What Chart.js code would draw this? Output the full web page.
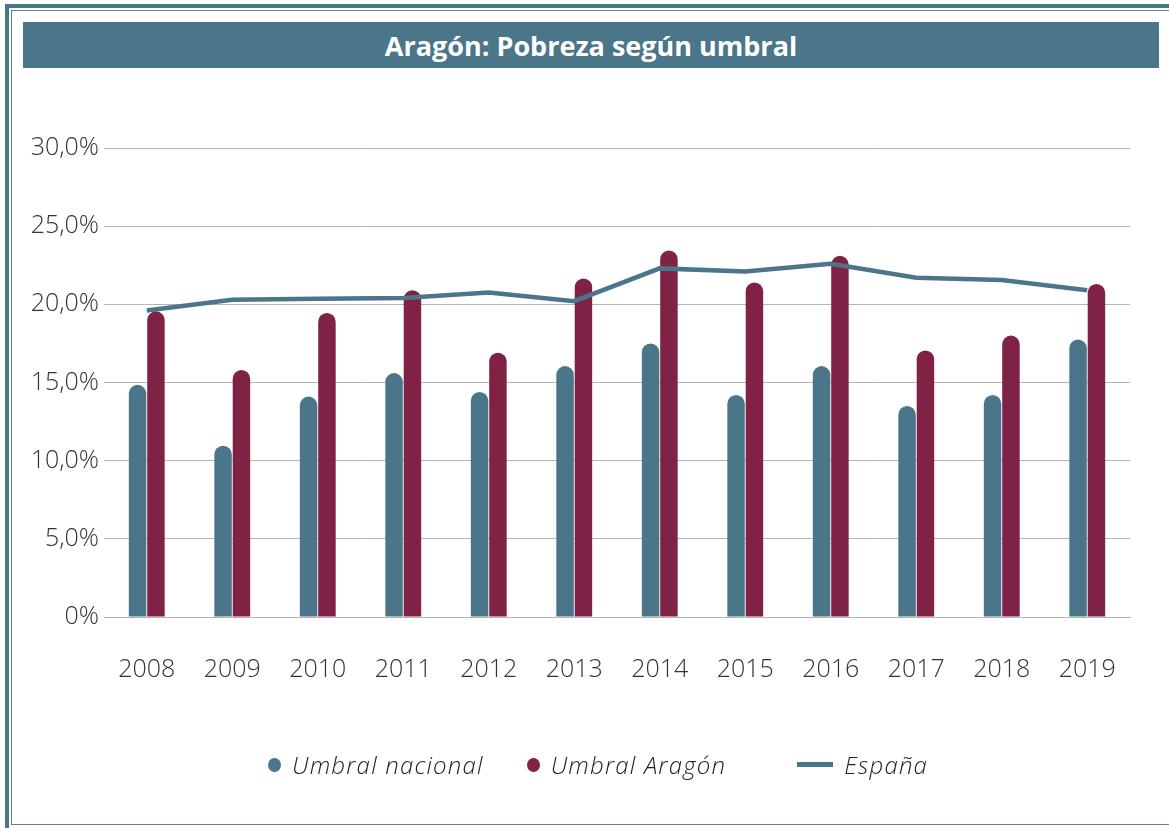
<!DOCTYPE html>
<html lang="es">
<head>
<meta charset="utf-8">
<title>Aragón: Pobreza según umbral</title>
<script src="https://cdn.jsdelivr.net/npm/chart.js@4"></script>
<style>
  html, body { margin: 0; padding: 0; background: #fff; }
  body { width: 1169px; height: 828px; position: relative; overflow: hidden; font-family: "Open Sans", sans-serif; }
  .marco-ext { position: absolute; left: 5px; top: 4px; width: 1200px; height: 900px; border-left: 4px solid #4b7589; border-top: 4px solid #4b7589; }
  .marco-int { position: absolute; left: 11px; top: 10px; width: 1200px; height: 813px; border-left: 1.5px solid #5f8497; border-top: 1.5px solid #5f8497; border-bottom: 1.5px solid #5f8497; }
  .titulo { position: absolute; left: 23px; top: 22px; width: 1136px; height: 46px; background: #4b7589; color: #fff;
            font: 700 27px "Open Sans", sans-serif; display: flex; align-items: center; justify-content: center; }
  #grafico { position: absolute; left: 0; top: 0; }
  .leyenda { position: absolute; left: 268px; top: 748px; display: flex; align-items: center; font: italic 300 24px "Open Sans", sans-serif; letter-spacing: 1.2px; color: #222; }
  .leyenda .item { display: flex; align-items: center; margin-right: 43px; }
  .leyenda .punto { width: 13px; height: 14px; border-radius: 50%; margin-right: 11px; }
  .leyenda .raya { width: 36px; height: 5px; margin-left: 28px; margin-right: 11px; }
</style>
</head>
<body>
<div class="marco-ext"></div>
<div class="marco-int"></div>
<div class="titulo">Aragón: Pobreza según umbral</div>
<canvas id="grafico" width="1169" height="828"></canvas>
<div class="leyenda" id="leyenda"></div>

<script>
// DATOS
const anios = ['2008', '2009', '2010', '2011', '2012', '2013', '2014', '2015', '2016', '2017', '2018', '2019'];
const umbralNacional = [14.85, 10.95, 14.1, 15.6, 14.4, 16.05, 17.5, 14.2, 16.05, 13.5, 14.2, 17.75];
const umbralAragon = [19.55, 15.8, 19.45, 20.9, 16.9, 21.65, 23.45, 21.4, 23.1, 17.05, 18.0, 21.3];
const espana = [19.6, 20.3, 20.35, 20.4, 20.75, 20.2, 22.3, 22.1, 22.6, 21.7, 21.55, 20.9];
const etiquetasY = ['0%', '5,0%', '10,0%', '15,0%', '20,0%', '25,0%', '30,0%'];

const AZUL = '#4b7589';
const GRANATE = '#7f2245';

// GRÁFICO
const ctx = document.getElementById('grafico');
const grafico = new Chart(ctx, {
    type: 'bar',
    data: {
        labels: anios,
        datasets: [
            {
                type: 'line',
                label: 'España',
                data: espana,
                borderColor: AZUL,
                backgroundColor: AZUL,
                borderWidth: 4.5,
                pointRadius: 0,
                tension: 0,
                order: 0
            },
            {
                label: 'Umbral nacional',
                data: umbralNacional,
                backgroundColor: AZUL,
                borderRadius: 20,
                borderSkipped: 'start',
                order: 1
            },
            {
                label: 'Umbral Aragón',
                data: umbralAragon,
                backgroundColor: GRANATE,
                borderRadius: 20,
                borderSkipped: 'start',
                order: 1
            }
        ]
    },
    options: {
        responsive: false,
        animation: false,
        datasets: {
            bar: { categoryPercentage: 0.43, barPercentage: 0.95 }
        },
        layout: { padding: { top: 148, right: 39, bottom: 105, left: 0 } },
        plugins: {
            legend: { display: false },
            tooltip: { enabled: false }
        },
        scales: {
            x: {
                grid: { display: false, drawTicks: false },
                border: { color: '#b5b5b5', width: 1 },
                ticks: {
                    color: '#333',
                    padding: 38,
                    font: { family: 'Open Sans', size: 25, weight: 300 }
                }
            },
            y: {
                min: 0,
                max: 30,
                afterFit: (escala) => { escala.width = 104; },
                grid: { color: '#b5b5b5', lineWidth: 1, drawTicks: false },
                border: { display: false },
                ticks: {
                    stepSize: 5,
                    padding: 5,
                    color: '#333',
                    font: { family: 'Open Sans', size: 25, weight: 300 },
                    callback: (v, i) => etiquetasY[i]
                }
            }
        }
    }
});

// LEYENDA
const leyenda = document.getElementById('leyenda');
[1, 2, 0].forEach(i => {
    const ds = grafico.data.datasets[i];
    const item = document.createElement('div');
    item.className = 'item';
    const marca = document.createElement('span');
    marca.className = ds.type === 'line' ? 'raya' : 'punto';
    marca.style.background = ds.backgroundColor;
    const texto = document.createElement('span');
    texto.textContent = ds.label;
    item.appendChild(marca);
    item.appendChild(texto);
    leyenda.appendChild(item);
});
</script>
</body>
</html>
